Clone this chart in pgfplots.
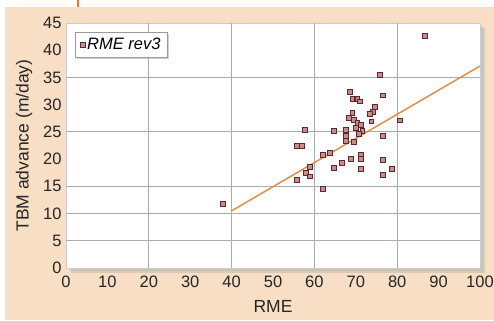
\documentclass[border=0pt]{standalone}
\usepackage{fontspec}
\setmainfont{Liberation Sans}
\usepackage{pgfplots}
\pgfplotsset{compat=1.18}
\usetikzlibrary{shadows}
\definecolor{bgpeach}{RGB}{247,222,196}
\definecolor{gridc}{RGB}{165,172,182}
\definecolor{mkedge}{RGB}{90,40,45}
\definecolor{mkfill}{RGB}{200,140,140}
\definecolor{trend}{RGB}{228,142,70}
\definecolor{topline}{RGB}{232,120,40}
\begin{document}
\begin{tikzpicture}[x=1bp,y=1bp]
\useasboundingbox (0,0) rectangle (494,320);
\fill[white] (0,0) rectangle (494,320);
\fill[bgpeach] (5,0) rectangle (494,313);
\draw[topline, line width=1.2bp] (78,313) -- (78,320);
% shadow of plot area
\fill[black!30, opacity=0.45] (71,47) rectangle (485,292);
\fill[black!30, opacity=0.35] (69,49) rectangle (483,294);
\begin{axis}[
  at={(66bp,52bp)}, anchor=south west,
  scale only axis, width=414bp, height=245bp,
  xmin=0, xmax=100, ymin=0, ymax=45,
  xtick={0,10,...,100}, ytick={0,5,...,45},
  major tick length=0pt,
  extra x ticks={20,40,60,80}, extra x tick labels={},
  extra x tick style={grid=major},
  extra y ticks={5,10,15,25,35}, extra y tick labels={},
  extra y tick style={grid=major},
  grid style={gridc, line width=0.9bp},
  axis background/.style={fill=white},
  axis line style={black!20, line width=0.8bp},
  /pgf/number format/assume math mode=true,
  ticklabel style={font=\fontsize{16.5bp}{18bp}\selectfont, text=black!85},
  xticklabel style={yshift=-4bp},
  yticklabel style={xshift=-1bp},
  xlabel={RME}, ylabel={TBM advance (m/day)},
  label style={font=\fontsize{17.5bp}{20bp}\selectfont, text=black!85},
  xlabel style={yshift=-6bp},
  ylabel style={yshift=4bp},
  legend style={at={(0.022,0.963)}, anchor=north west, draw=black!40, fill=white,
    font=\fontsize{16.5bp}{18bp}\selectfont\itshape,
    drop shadow={shadow xshift=2bp, shadow yshift=-2bp, opacity=0.35},
    inner xsep=5bp, inner ysep=4bp},
  legend cell align=left,
]
\addplot[only marks, mark=square*, mark size=2.4bp,
  mark options={draw=mkedge, fill=mkfill, line width=1bp}]
coordinates {
(86.7,42.6) (75.8,35.5) (76.6,31.7) (68.6,32.3) (69.2,31.0) (70.4,31.0)
(71.0,30.6) (74.7,29.5) (74.1,28.7) (73.4,28.3) (73.8,26.9) (69.2,28.4)
(68.4,27.5) (69.6,27.2) (70.4,26.6) (71.2,26.3) (70.0,25.7) (71.6,25.1)
(70.8,24.6) (80.6,27.1) (64.8,25.2) (67.6,25.3) (67.6,24.3) (67.6,23.4)
(69.6,23.2) (76.6,24.3) (57.8,25.4) (55.7,22.4) (57.0,22.4) (63.8,21.1)
(62.0,20.8) (71.2,20.8) (71.2,20.0) (68.8,20.0) (66.7,19.3) (64.8,18.3)
(71.2,18.2) (59.0,18.5) (58.0,17.4) (59.0,16.8) (55.7,16.2) (76.6,19.8)
(76.6,17.1) (78.7,18.2) (62.0,14.5) (37.9,11.8)
};
\addlegendentry{RME rev3}
\addplot[trend, line width=1.5bp, forget plot] coordinates {(40,10.5) (100,37.1)};
\end{axis}
\end{tikzpicture}
\end{document}
